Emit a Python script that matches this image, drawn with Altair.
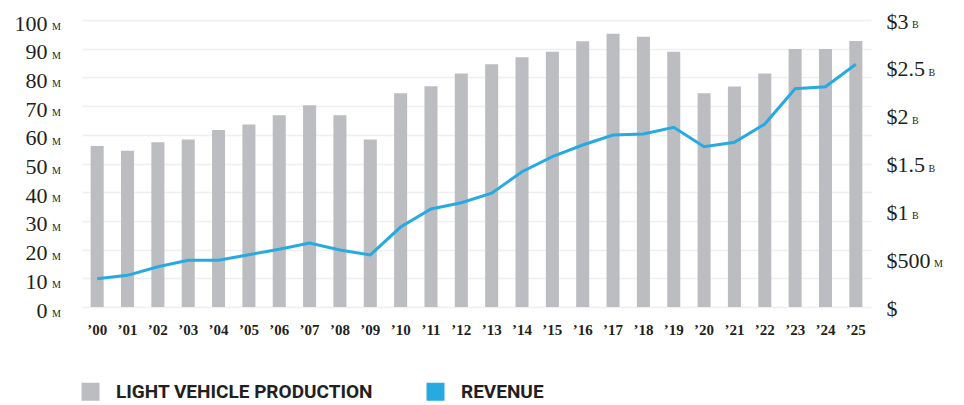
import altair as alt
import pandas as pd

# ---- data ----
years = ["’00", "’01", "’02", "’03", "’04", "’05", "’06", "’07", "’08", "’09",
         "’10", "’11", "’12", "’13", "’14", "’15", "’16", "’17", "’18", "’19",
         "’20", "’21", "’22", "’23", "’24", "’25"]
production_m = [56.1, 54.4, 57.4, 58.4, 61.7, 63.6, 66.8, 70.3, 66.8, 58.4,
                74.5, 76.9, 81.4, 84.6, 87.0, 88.9, 92.6, 95.2, 94.2, 88.9,
                74.5, 76.8, 81.4, 89.9, 89.9, 92.7]
revenue_musd = [296, 331, 421, 488, 488, 547, 603, 669, 596, 544,
                836, 1024, 1090, 1189, 1414, 1571, 1693, 1798, 1808, 1878,
                1676, 1721, 1913, 2282, 2303, 2537]

series_names = ["LIGHT VEHICLE PRODUCTION", "REVENUE"]
series_colors = ["#bcbdc1", "#27aae1"]

left_ticks = [0, 10, 20, 30, 40, 50, 60, 70, 80, 90, 100]
left_unit = "M"
right_ticks = [0, 500, 1000, 1500, 2000, 2500, 3000]
right_nums = ["$", "$500", "$1", "$1.5", "$2", "$2.5", "$3"]
right_units = ["", "M", "B", "B", "B", "B", "B"]

df = pd.DataFrame({"year": years, "production": production_m,
                   "revenue": revenue_musd})
left_df = pd.DataFrame({"tick": left_ticks, "unit": [left_unit] * len(left_ticks)})
right_df = pd.DataFrame({"tick": right_ticks, "num": right_nums, "unit": right_units})

W, H = 789, 287
SERIF = "Liberation Serif, DejaVu Serif, serif"
LEGEND_FONT = "Roboto, sans-serif"
TXT = "#231f20"

# label expression for right axis built from the lists
expr = "''"
for t, n in zip(right_ticks, right_nums):
    expr = f"datum.value == {t} ? '{n}' : ({expr})"

x_enc = alt.X("year:N", sort=years,
              scale=alt.Scale(paddingInner=0.57, paddingOuter=0.285),
              axis=alt.Axis(title=None, labelAngle=0, domain=False, ticks=False,
                            labelFont=SERIF, labelFontWeight="bold",
                            labelFontSize=15, labelColor=TXT,
                            labelBaseline="alphabetic", labelPadding=27))

bars = alt.Chart(df).transform_calculate(
    series=f"'{series_names[0]}'"
).mark_bar().encode(
    x=x_enc,
    y=alt.Y("production:Q",
            scale=alt.Scale(domain=[0, 100], nice=False),
            axis=alt.Axis(title=None, orient="left", values=left_ticks,
                          format="d", domain=False, ticks=False,
                          grid=True, gridColor="#efefef", gridWidth=1.5,
                          labelFont=SERIF, labelFontSize=22, labelColor=TXT,
                          labelBaseline="alphabetic", labelOffset=10,
                          labelPadding=35)),
    color=alt.Color("series:N",
                    scale=alt.Scale(domain=series_names, range=series_colors),
                    legend=alt.Legend(title=None, orient="none",
                                      direction="horizontal",
                                      legendX=-1, legendY=362,
                                      symbolType="square", symbolSize=324,
                                      symbolStrokeWidth=0,
                                      labelFont=LEGEND_FONT,
                                      labelFontSize=19, labelFontWeight="bold",
                                      labelColor=TXT, labelOffset=16,
                                      columnPadding=52, padding=0,
                                      labelLimit=500)),
)

left_units = alt.Chart(left_df).mark_text(
    align="left", baseline="alphabetic", dy=10, font=SERIF, fontSize=10,
    color=TXT
).encode(
    x=alt.value(-30),
    y=alt.Y("tick:Q", scale=alt.Scale(domain=[0, 100], nice=False), axis=None),
    text="unit:N",
)

line = alt.Chart(df).mark_line(color=series_colors[1], strokeWidth=3).encode(
    x=alt.X("year:N", sort=years),
    y=alt.Y("revenue:Q",
            scale=alt.Scale(domain=[0, 3000], nice=False),
            axis=alt.Axis(title=None, orient="right", values=right_ticks,
                          labelExpr=expr, domain=False, ticks=False, grid=False,
                          labelFont=SERIF, labelFontSize=22, labelColor=TXT,
                          labelAlign="left", labelBaseline="alphabetic",
                          labelOffset=8, labelPadding=15)),
)

right_units_layer = alt.Chart(right_df).transform_calculate(
    sx=f"{W} + 15 + (length(datum.num) - (indexof(datum.num, '.') >= 0 ? 0.5 : 0)) * 11 + 4"
).mark_text(
    align="left", baseline="alphabetic", dy=8, font=SERIF, fontSize=10,
    color=TXT
).encode(
    x=alt.X("sx:Q", scale=None),
    y=alt.Y("tick:Q", scale=alt.Scale(domain=[0, 3000], nice=False), axis=None),
    text="unit:N",
)

chart = alt.layer(bars, left_units, line, right_units_layer).resolve_scale(
    y="independent"
).properties(
    width=W, height=H,
    autosize=alt.AutoSizeParams(type="none"),
    padding={"left": 74, "top": 12, "right": 80, "bottom": 97},
).configure_view(stroke=None)

chart.save("out.html", embed_options={"renderer": "svg", "actions": False})
